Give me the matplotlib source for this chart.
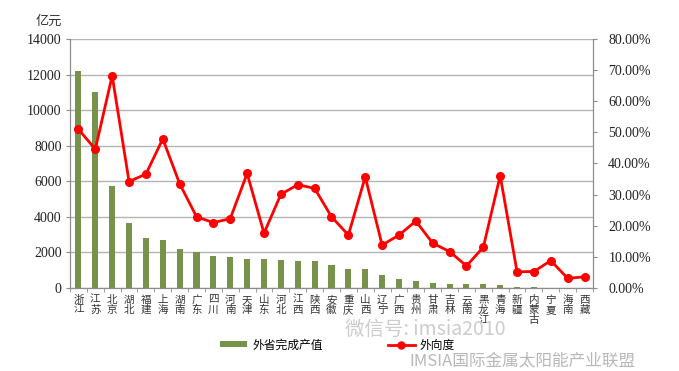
import numpy as np
import matplotlib
matplotlib.use("Agg")
import matplotlib.pyplot as plt
from matplotlib.lines import Line2D
from matplotlib.patches import Patch

# data
provinces = ["浙江", "江苏", "北京", "湖北", "福建", "上海", "湖南", "广东", "四川", "河南",
             "天津", "山东", "河北", "江西", "陕西", "安徽", "重庆", "山西", "辽宁", "广西",
             "贵州", "甘肃", "吉林", "云南", "黑龙江", "青海", "新疆", "内蒙古", "宁夏", "海南", "西藏"]
output_value = [12180, 11000, 5720, 3630, 2790, 2680, 2190, 2000, 1820, 1760,
                1650, 1650, 1575, 1535, 1525, 1290, 1050, 1050, 730, 505,
                410, 280, 240, 240, 200, 150, 80, 30, 20, 10, 5]
outward_ratio = [51.0, 44.6, 68.2, 34.2, 36.6, 47.9, 33.5, 22.9, 21.0, 22.3,
                 36.8, 17.6, 30.1, 33.2, 32.0, 22.9, 17.0, 35.7, 13.8, 17.0,
                 21.5, 14.4, 11.7, 7.1, 13.1, 36.1, 5.2, 5.3, 8.8, 3.1, 3.6]
left_ticks = [0, 2000, 4000, 6000, 8000, 10000, 12000, 14000]
right_ticks = [0, 10, 20, 30, 40, 50, 60, 70, 80]

cjk = ["Noto Sans CJK SC", "DejaVu Sans"]
serif = ["Liberation Serif", "DejaVu Serif"]
green = "#76924b"
grid_c = "#b4b4b4"
axis_c = "#8c8c8c"

fig = plt.figure(figsize=(6.79, 3.71), dpi=100)
ax = fig.add_axes([0.1031, 0.2237, 0.7702, 0.6712])
x = np.arange(len(provinces))

ax.bar(x, output_value, width=0.36, color=green, zorder=2)
ax.set_xlim(-0.5, len(provinces) - 0.5)
ax.set_ylim(0, 14000)
ax.set_yticks(left_ticks)
ax.set_yticklabels([str(v) for v in left_ticks], family=serif, fontsize=10, color="#222222")
ax.yaxis.grid(True, color=grid_c, linewidth=1.0, zorder=0)
ax.set_axisbelow(True)

ax.set_xticks(x)
ax.set_xticklabels(["\n".join(p) for p in provinces], family=cjk, fontsize=7.6,
                   linespacing=1.0, color="#333333")
ax.set_xticks(np.arange(len(provinces) + 1) - 0.5, minor=True)
ax.tick_params(axis="x", which="major", length=0, pad=5)
ax.tick_params(axis="x", which="minor", length=3, color=axis_c)
ax.tick_params(axis="y", length=3, color=axis_c, pad=3)

ax.spines["top"].set_visible(False)
for s in ["left", "right", "bottom"]:
    ax.spines[s].set_color(axis_c)

ax2 = ax.twinx()
ax2.plot(x, outward_ratio, color="#ff0000", linewidth=2.0, marker="o", markersize=5.5, zorder=3)
ax2.set_ylim(0, 80)
ax2.set_yticks(right_ticks)
ax2.set_yticklabels([f"{v:.2f}%" for v in right_ticks], family=serif, fontsize=10, color="#222222")
ax2.tick_params(axis="y", length=3, color=axis_c, pad=8)
ax2.spines["top"].set_visible(False)
for s in ["left", "right", "bottom"]:
    ax2.spines[s].set_color(axis_c)

fig.text(49 / 679, 1 - 21 / 371, "亿元", family=cjk, fontsize=9.5, ha="center", va="center",
         color="#333333")

handles = [Patch(facecolor=green, edgecolor="none"),
           Line2D([0], [0], color="#ff0000", linewidth=2.0, marker="o", markersize=5)]
fig.legend(handles, ["外省完成产值", "外向度"], loc="center", ncol=2, frameon=False,
           bbox_to_anchor=(0.497, 1 - 345 / 371), prop={"family": cjk, "size": 8.5},
           handlelength=2.3, handleheight=0.45, columnspacing=5.5, handletextpad=0.4)

# watermarks
fig.text(425 / 679, 1 - 329 / 371, "微信号: imsia2010", family=cjk, fontsize=14,
         ha="center", va="center", color="#cccccc", zorder=5)
fig.text(522 / 679, 1 - 361 / 371, "IMSIA国际金属太阳能产业联盟", family=cjk, fontsize=12,
         style="italic", ha="center", va="center", color="#b8b8b8", zorder=5)

fig.savefig("out.png", dpi=100)
